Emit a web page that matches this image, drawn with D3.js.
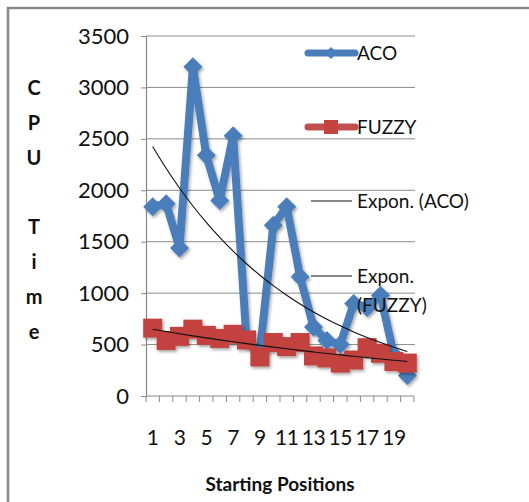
<!DOCTYPE html>
<html lang="en">
<head>
    <meta charset="UTF-8">
    <title>CPU Time</title>
    <script src="https://cdnjs.cloudflare.com/ajax/libs/d3/7.8.5/d3.min.js"></script>
    <style>
        body { margin: 0; background: #fff; }
        svg text { font-family: Lato, "Open Sans", sans-serif; fill: #111; }
    </style>
</head>
<body>
    <script>
        // chart data
        const categories = [1, 2, 3, 4, 5, 6, 7, 8, 9, 10, 11, 12, 13, 14, 15, 16, 17, 18, 19, 20];
        const aco = [1840, 1870, 1440, 3200, 2340, 1900, 2530, 550, 430, 1660, 1840, 1160, 670, 540, 500, 900, 860, 980, 400, 200];
        const fuzzy = [660, 540, 580, 650, 590, 560, 600, 545, 380, 520, 480, 520, 390, 370, 320, 350, 470, 415, 335, 320];
        const xTickLabels = [1, 3, 5, 7, 9, 11, 13, 15, 17, 19];
        const yTicks = [0, 500, 1000, 1500, 2000, 2500, 3000, 3500];
        const yTitle = ['C', 'P', 'U', '', 'T', 'i', 'm', 'e'];

        const w = 529;
        const h = 502;
        const plotL = 146, plotR = 414, plotT = 36, plotB = 396;

        const svg = d3.select('body')
            .append('svg')
            .attr('width', w)
            .attr('height', h);

        const defs = svg.append('defs');
        const shadow = defs.append('filter').attr('id', 'shadow')
            .attr('x', '-20%').attr('y', '-20%').attr('width', '140%').attr('height', '140%');
        shadow.append('feDropShadow')
            .attr('dx', 1.5).attr('dy', 2).attr('stdDeviation', 1.5)
            .attr('flood-color', '#000').attr('flood-opacity', 0.35);

        // frame (top and left edges only)
        svg.append('path')
            .attr('d', `M8,${h} V8 H${w}`)
            .attr('fill', 'none')
            .attr('stroke', '#8a8a8a')
            .attr('stroke-width', 2.5);

        const x = d3.scaleBand()
            .domain(categories)
            .range([plotL, plotR]);

        const y = d3.scaleLinear()
            .domain([0, 3500])
            .range([plotB, plotT]);

        const cx = d => x(d) + x.bandwidth() / 2;

        // gridlines
        svg.append('g')
            .selectAll('line')
            .data(yTicks.slice(1))
            .enter()
            .append('line')
            .attr('x1', plotL).attr('x2', plotR + 1)
            .attr('y1', d => y(d)).attr('y2', d => y(d))
            .attr('stroke', '#8c8c8c')
            .attr('stroke-width', 1);

        // y axis
        const yAxis = d3.axisLeft(y).tickValues(yTicks).tickFormat(d3.format('d')).tickSize(5).tickPadding(12);
        const gy = svg.append('g')
            .attr('transform', `translate(${plotL}, 0)`)
            .call(yAxis);
        gy.select('.domain').attr('stroke', '#888').attr('stroke-width', 1.2);
        gy.selectAll('.tick line').attr('stroke', '#888');
        gy.selectAll('.tick text')
            .attr('font-size', 22)
            .attr('fill', '#111')
            .attr('font-family', 'Lato, sans-serif');

        // x axis: ticks at category boundaries
        const boundaries = categories.map(d => x(d)).concat([plotR]);
        const gx = svg.append('g');
        gx.append('line')
            .attr('x1', plotL).attr('x2', plotR)
            .attr('y1', plotB).attr('y2', plotB)
            .attr('stroke', '#888').attr('stroke-width', 1.2);
        gx.selectAll('.tk')
            .data(boundaries)
            .enter()
            .append('line')
            .attr('x1', d => d).attr('x2', d => d)
            .attr('y1', plotB).attr('y2', plotB + 6)
            .attr('stroke', '#888');
        gx.selectAll('text')
            .data(xTickLabels)
            .enter()
            .append('text')
            .attr('x', d => cx(d))
            .attr('y', 445)
            .attr('text-anchor', 'middle')
            .attr('font-size', 21)
            .attr('letter-spacing', -0.5)
            .text(d => d);

        // axis titles
        svg.append('text')
            .attr('x', 280).attr('y', 491)
            .attr('text-anchor', 'middle')
            .attr('font-size', 19)
            .attr('font-weight', 'bold')
            .text('Starting Positions');

        svg.append('g')
            .selectAll('text')
            .data(yTitle)
            .enter()
            .append('text')
            .attr('x', 34)
            .attr('y', (d, i) => 95 + i * 34.8)
            .attr('text-anchor', 'middle')
            .attr('font-size', 20)
            .attr('font-weight', 'bold')
            .text(d => d);

        // series
        const line = d3.line()
            .x((d, i) => cx(categories[i]))
            .y(d => y(d));

        const diamond = d3.symbol().type(d3.symbolDiamond2).size(230);

        const acoG = svg.append('g').attr('filter', 'url(#shadow)');
        acoG.append('path')
            .datum(aco)
            .attr('d', line)
            .attr('fill', 'none')
            .attr('stroke', '#4a7ebb')
            .attr('stroke-width', 8)
            .attr('stroke-linejoin', 'round');
        acoG.selectAll('path.pt')
            .data(aco)
            .enter()
            .append('path')
            .attr('class', 'pt')
            .attr('d', diamond)
            .attr('transform', (d, i) => `translate(${cx(categories[i])},${y(d)})`)
            .attr('fill', '#4a7ebb');

        const fuzzyG = svg.append('g').attr('filter', 'url(#shadow)');
        fuzzyG.append('path')
            .datum(fuzzy)
            .attr('d', line)
            .attr('fill', 'none')
            .attr('stroke', '#c0504d')
            .attr('stroke-width', 8)
            .attr('stroke-linejoin', 'round');
        fuzzyG.selectAll('rect')
            .data(fuzzy)
            .enter()
            .append('rect')
            .attr('x', (d, i) => cx(categories[i]) - 9.5)
            .attr('y', d => y(d) - 9.5)
            .attr('width', 19)
            .attr('height', 19)
            .attr('fill', '#c3433f');

        // exponential trendlines (least squares on log values)
        function expFit(vals) {
            const xs = categories, ls = vals.map(v => Math.log(v));
            const mx = d3.mean(xs), ml = d3.mean(ls);
            const b = d3.sum(xs, (xv, i) => (xv - mx) * (ls[i] - ml)) / d3.sum(xs, xv => (xv - mx) ** 2);
            const a = Math.exp(ml - b * mx);
            return xs.map(xv => a * Math.exp(b * xv));
        }

        const trend = d3.line()
            .x((d, i) => cx(categories[i]))
            .y(d => y(d))
            .curve(d3.curveMonotoneX);

        [aco, fuzzy].forEach(s => {
            svg.append('path')
                .datum(expFit(s))
                .attr('d', trend)
                .attr('fill', 'none')
                .attr('stroke', '#111')
                .attr('stroke-width', 1.1);
        });

        // legend
        const lg = svg.append('g');
        const lx1 = 308, lx2 = 355, tx = 357;
        lg.append('line').attr('x1', lx1).attr('x2', lx2).attr('y1', 53).attr('y2', 53)
            .attr('stroke', '#4a7ebb').attr('stroke-width', 7).attr('stroke-linecap', 'round');
        lg.append('path').attr('d', d3.symbol().type(d3.symbolDiamond2).size(90))
            .attr('transform', 'translate(331,53)').attr('fill', '#4a7ebb');
        lg.append('line').attr('x1', lx1).attr('x2', lx2).attr('y1', 127).attr('y2', 127)
            .attr('stroke', '#c0504d').attr('stroke-width', 7).attr('stroke-linecap', 'round');
        lg.append('rect').attr('x', 324).attr('y', 120).attr('width', 14).attr('height', 14)
            .attr('fill', '#c3433f');
        lg.append('line').attr('x1', 311).attr('x2', 352).attr('y1', 201).attr('y2', 201)
            .attr('stroke', '#111').attr('stroke-width', 1.1);
        lg.append('line').attr('x1', 311).attr('x2', 352).attr('y1', 276).attr('y2', 276)
            .attr('stroke', '#111').attr('stroke-width', 1.1);

        const legendText = [['ACO', 60], ['FUZZY', 134], ['Expon. (ACO)', 208], ['Expon.', 283], ['(FUZZY)', 312]];
        lg.selectAll('text')
            .data(legendText)
            .enter()
            .append('text')
            .attr('x', tx)
            .attr('y', d => d[1])
            .attr('font-size', 19)
            .text(d => d[0]);
    </script>
</body>
</html>
